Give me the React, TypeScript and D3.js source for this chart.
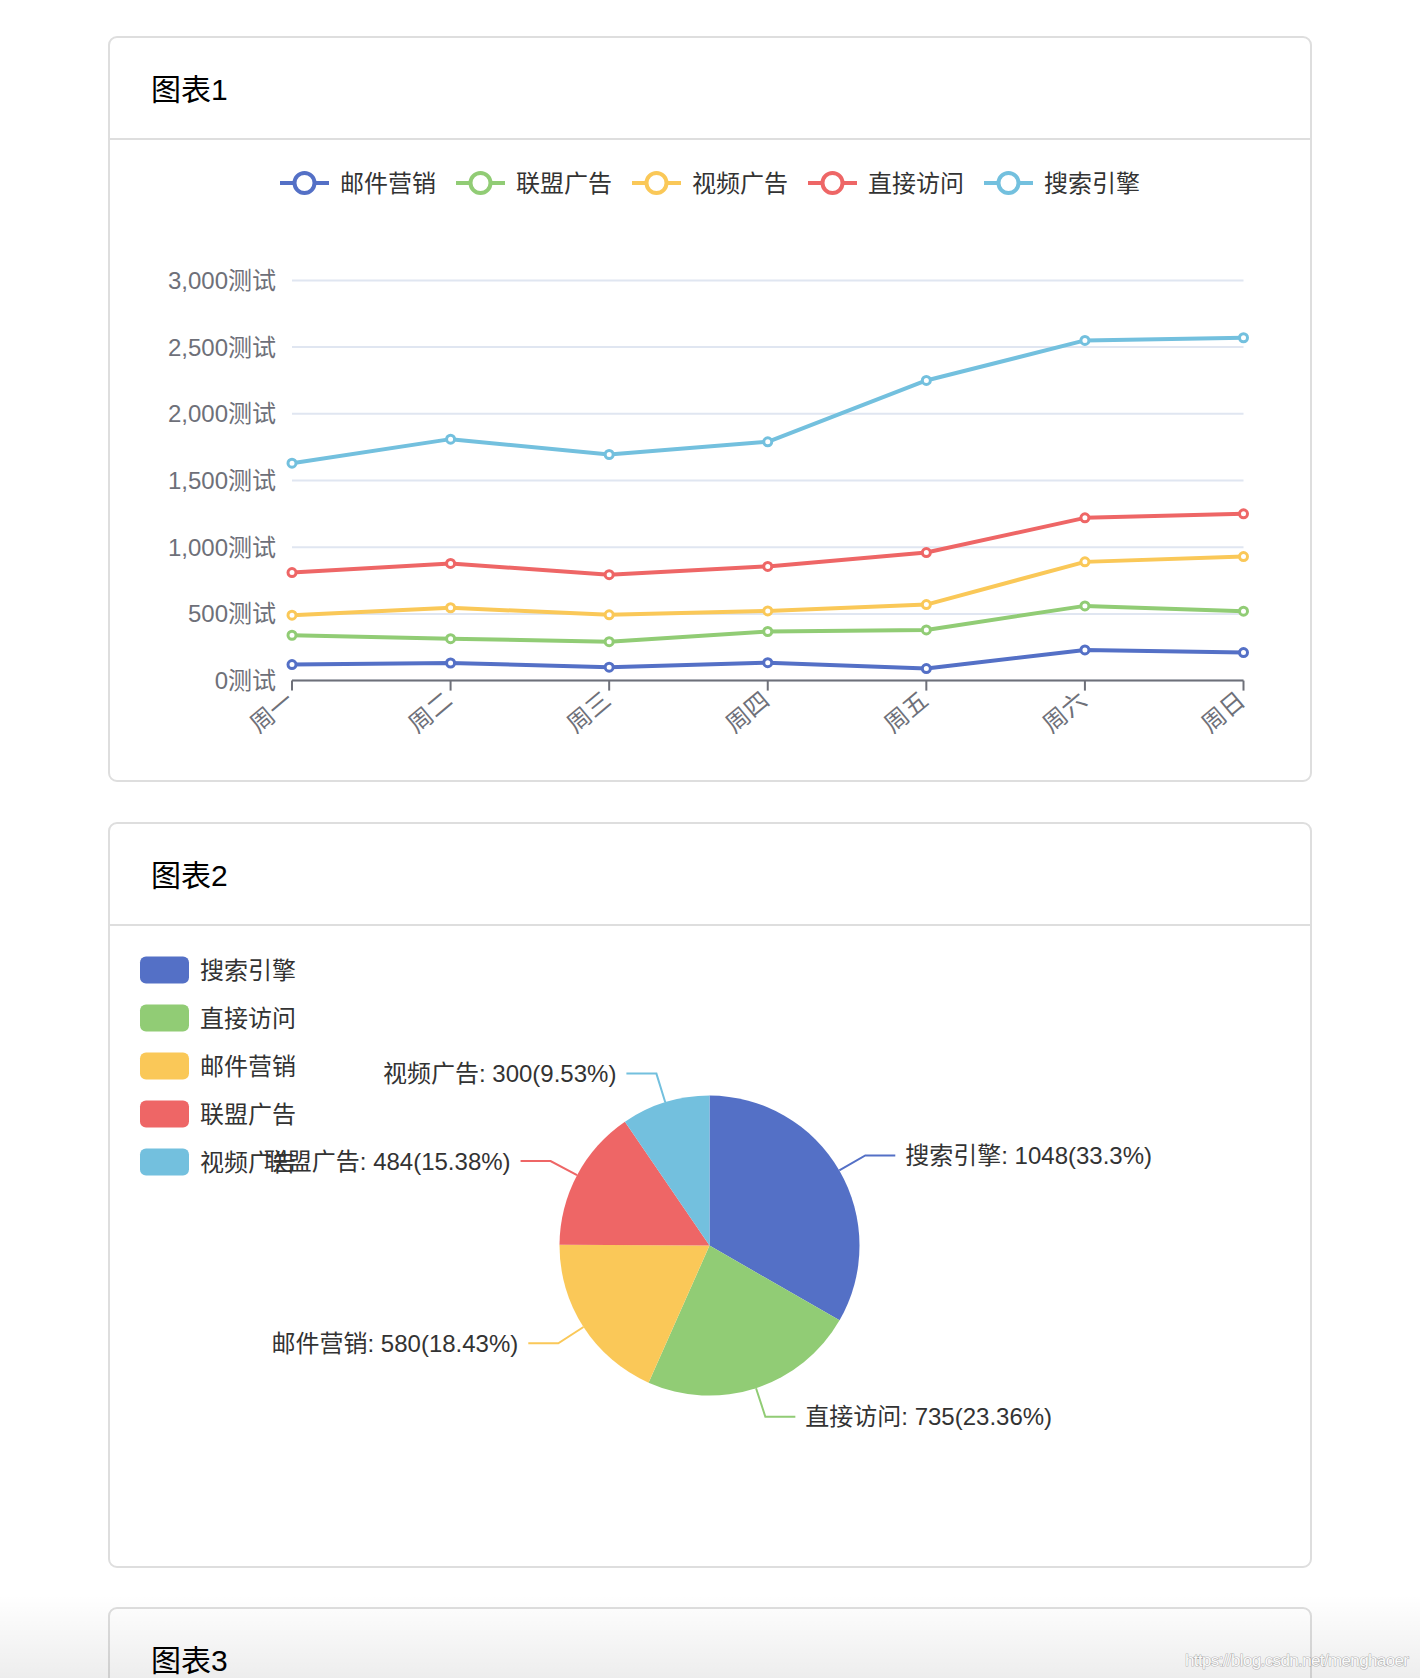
import { useEffect, useRef } from 'react';
import * as d3 from 'd3';

// chart 1: stacked line
const weekDays = ['周一', '周二', '周三', '周四', '周五', '周六', '周日'];
const lineNames = ['邮件营销', '联盟广告', '视频广告', '直接访问', '搜索引擎'];
const emailValues = [120, 132, 101, 134, 90, 230, 210];
const unionValues = [220, 182, 191, 234, 290, 330, 310];
const videoValues = [150, 232, 201, 154, 190, 330, 410];
const directValues = [320, 332, 301, 334, 390, 330, 320];
const searchValues = [820, 932, 901, 934, 1290, 1330, 1320];
const yTicks = [0, 500, 1000, 1500, 2000, 2500, 3000];

// chart 2: pie
const pieNames = ['搜索引擎', '直接访问', '邮件营销', '联盟广告', '视频广告'];
const pieValues = [1048, 735, 580, 484, 300];

const palette = ['#5470c6', '#91cc75', '#fac858', '#ee6666', '#73c0de'];
const cardTitles = ['图表1', '图表2', '图表3'];

const W = 1420;
const H = 1678;
const FONT = "'Liberation Sans', 'Noto Sans CJK SC', sans-serif";

export default function App() {
  const svgRef = useRef<SVGSVGElement>(null);

  useEffect(() => {
    if (!svgRef.current) return;
    const svg = d3.select(svgRef.current);
    svg.selectAll('*').remove();

    svg.append('rect').attr('width', W).attr('height', H).attr('fill', '#fff');

    // Cards
    const cardLeft = 109;
    const cardRight = 1311;
    const cardTops = [37, 823, 1608];
    const cardBottoms = [781, 1567, 1760];
    cardTitles.forEach((t, i) => {
      const top = cardTops[i];
      svg.append('rect')
        .attr('x', cardLeft).attr('y', top)
        .attr('width', cardRight - cardLeft)
        .attr('height', cardBottoms[i] - top)
        .attr('rx', 8)
        .attr('fill', '#fff')
        .attr('stroke', '#dedede')
        .attr('stroke-width', 2);
      svg.append('line')
        .attr('x1', cardLeft).attr('x2', cardRight)
        .attr('y1', top + 102).attr('y2', top + 102)
        .attr('stroke', '#dedede')
        .attr('stroke-width', 2);
      svg.append('text')
        .attr('x', 151).attr('y', top + 52)
        .attr('dominant-baseline', 'central')
        .attr('fill', '#000')
        .style('font-family', FONT)
        .style('font-size', '30px')
        .text(t);
    });

    // ---------- Chart 1 ----------
    const seriesValues = [emailValues, unionValues, videoValues, directValues, searchValues];
    const table = weekDays.map((d, i) => {
      const row: Record<string, number | string> = { day: d };
      lineNames.forEach((n, k) => { row[n] = seriesValues[k][i]; });
      return row;
    });
    const stacked = d3.stack<Record<string, number | string>>().keys(lineNames)(table as any);

    const x = d3.scalePoint<string>().domain(weekDays).range([292, 1243.5]);
    const y = d3.scaleLinear().domain([0, 3000]).range([680.6, 280.4]);

    const g1 = svg.append('g');

    // grid
    yTicks.forEach(t => {
      g1.append('line')
        .attr('x1', x(weekDays[0])!).attr('x2', x(weekDays[6])!)
        .attr('y1', y(t)).attr('y2', y(t))
        .attr('stroke', '#e0e6f1')
        .attr('stroke-width', 2);
      g1.append('text')
        .attr('x', x(weekDays[0])! - 16)
        .attr('y', y(t))
        .attr('text-anchor', 'end')
        .attr('dominant-baseline', 'central')
        .attr('fill', '#6e7079')
        .style('font-family', FONT)
        .style('font-size', '24px')
        .text(`${d3.format(',')(t)}测试`);
    });

    // x axis
    g1.append('line')
      .attr('x1', x(weekDays[0])!).attr('x2', x(weekDays[6])!)
      .attr('y1', y(0)).attr('y2', y(0))
      .attr('stroke', '#6e7079')
      .attr('stroke-width', 2);
    weekDays.forEach(d => {
      g1.append('line')
        .attr('x1', x(d)!).attr('x2', x(d)!)
        .attr('y1', y(0)).attr('y2', y(0) + 10)
        .attr('stroke', '#6e7079')
        .attr('stroke-width', 2);
      g1.append('text')
        .attr('transform', `translate(${x(d)! - 2},${y(0) + 16}) rotate(-40)`)
        .attr('text-anchor', 'end')
        .attr('dominant-baseline', 'central')
        .attr('fill', '#6e7079')
        .style('font-family', FONT)
        .style('font-size', '24px')
        .text(d);
    });

    // lines
    const line = d3.line<[number, number]>()
      .x((_, i) => x(weekDays[i])!)
      .y(p => y(p[1]));
    stacked.forEach((s, k) => {
      const pts = s.map(p => [p[0], p[1]] as [number, number]);
      g1.append('path')
        .attr('d', line(pts))
        .attr('fill', 'none')
        .attr('stroke', palette[k])
        .attr('stroke-width', 4)
        .attr('stroke-linejoin', 'round');
      pts.forEach((p, i) => {
        g1.append('circle')
          .attr('cx', x(weekDays[i])!)
          .attr('cy', y(p[1]))
          .attr('r', 4)
          .attr('fill', '#fff')
          .attr('stroke', palette[k])
          .attr('stroke-width', 3);
      });
    });

    // legend
    lineNames.forEach((n, i) => {
      const lx = 280 + i * 176;
      const ly = 183;
      const item = g1.append('g').attr('transform', `translate(${lx},${ly})`);
      item.append('line')
        .attr('x1', 0).attr('x2', 49)
        .attr('y1', 0).attr('y2', 0)
        .attr('stroke', palette[i])
        .attr('stroke-width', 4);
      item.append('circle')
        .attr('cx', 24.5).attr('cy', 0).attr('r', 10)
        .attr('fill', '#fff')
        .attr('stroke', palette[i])
        .attr('stroke-width', 4);
      item.append('text')
        .attr('x', 60).attr('y', 0)
        .attr('dominant-baseline', 'central')
        .attr('fill', '#333')
        .style('font-family', FONT)
        .style('font-size', '24px')
        .text(n);
    });

    // ---------- Chart 2 ----------
    const g2 = svg.append('g');
    const cx = 709.5;
    const cy = 1245.6;
    const r = 150;
    const pie = d3.pie<number>().sort(null).value(v => v);
    const arcs = pie(pieValues);
    const arc = d3.arc<d3.PieArcDatum<number>>().innerRadius(0).outerRadius(r);
    const total = d3.sum(pieValues);

    g2.selectAll('.slice')
      .data(arcs)
      .enter()
      .append('path')
      .attr('class', 'slice')
      .attr('transform', `translate(${cx},${cy})`)
      .attr('d', arc)
      .attr('fill', (_, i) => palette[i]);

    arcs.forEach((a, i) => {
      const mid = (a.startAngle + a.endAngle) / 2;
      const sx = Math.sin(mid);
      const sy = -Math.cos(mid);
      const p0 = [cx + r * sx, cy + r * sy];
      const p1 = [cx + (r + 30) * sx, cy + (r + 30) * sy];
      const dir = sx >= 0 ? 1 : -1;
      const p2 = [p1[0] + dir * 30, p1[1]];
      g2.append('polyline')
        .attr('points', [p0, p1, p2].map(p => p.join(',')).join(' '))
        .attr('fill', 'none')
        .attr('stroke', palette[i])
        .attr('stroke-width', 2);
      const pct = +((pieValues[i] / total) * 100).toFixed(2);
      g2.append('text')
        .attr('x', p2[0] + dir * 10)
        .attr('y', p2[1])
        .attr('text-anchor', dir > 0 ? 'start' : 'end')
        .attr('dominant-baseline', 'central')
        .attr('fill', '#333')
        .style('font-family', FONT)
        .style('font-size', '24px')
        .text(`${pieNames[i]}: ${pieValues[i]}(${pct}%)`);
    });

    // pie legend
    pieNames.forEach((n, i) => {
      const ly = 970 + i * 48;
      g2.append('rect')
        .attr('x', 140).attr('y', ly - 13.5)
        .attr('width', 49).attr('height', 27)
        .attr('rx', 6)
        .attr('fill', palette[i]);
      g2.append('text')
        .attr('x', 200).attr('y', ly)
        .attr('dominant-baseline', 'central')
        .attr('fill', '#333')
        .style('font-family', FONT)
        .style('font-size', '24px')
        .text(n);
    });

    // bottom fade + watermark
    const defs = svg.append('defs');
    const grad = defs.append('linearGradient')
      .attr('id', 'fade').attr('x1', 0).attr('y1', 0).attr('x2', 0).attr('y2', 1);
    grad.append('stop').attr('offset', '0%').attr('stop-color', '#000').attr('stop-opacity', 0);
    grad.append('stop').attr('offset', '100%').attr('stop-color', '#000').attr('stop-opacity', 0.07);
    svg.append('rect')
      .attr('x', 0).attr('y', 1595)
      .attr('width', W).attr('height', H - 1595)
      .attr('fill', 'url(#fade)');
    svg.append('text')
      .attr('x', 1185).attr('y', 1666)
      .attr('textLength', 224)
      .attr('fill', '#fafafa')
      .attr('stroke', 'rgba(0,0,0,0.28)')
      .attr('stroke-width', 1.2)
      .style('paint-order', 'stroke')
      .style('font-family', "'Liberation Sans', Arial, sans-serif")
      .style('font-size', '17px')
      .text('https://blog.csdn.net/menghaoer');
  }, []);

  return (
    <svg
      ref={svgRef}
      width={W}
      height={H}
      style={{ position: 'absolute', left: 0, top: 0, display: 'block' }}
    />
  );
}
